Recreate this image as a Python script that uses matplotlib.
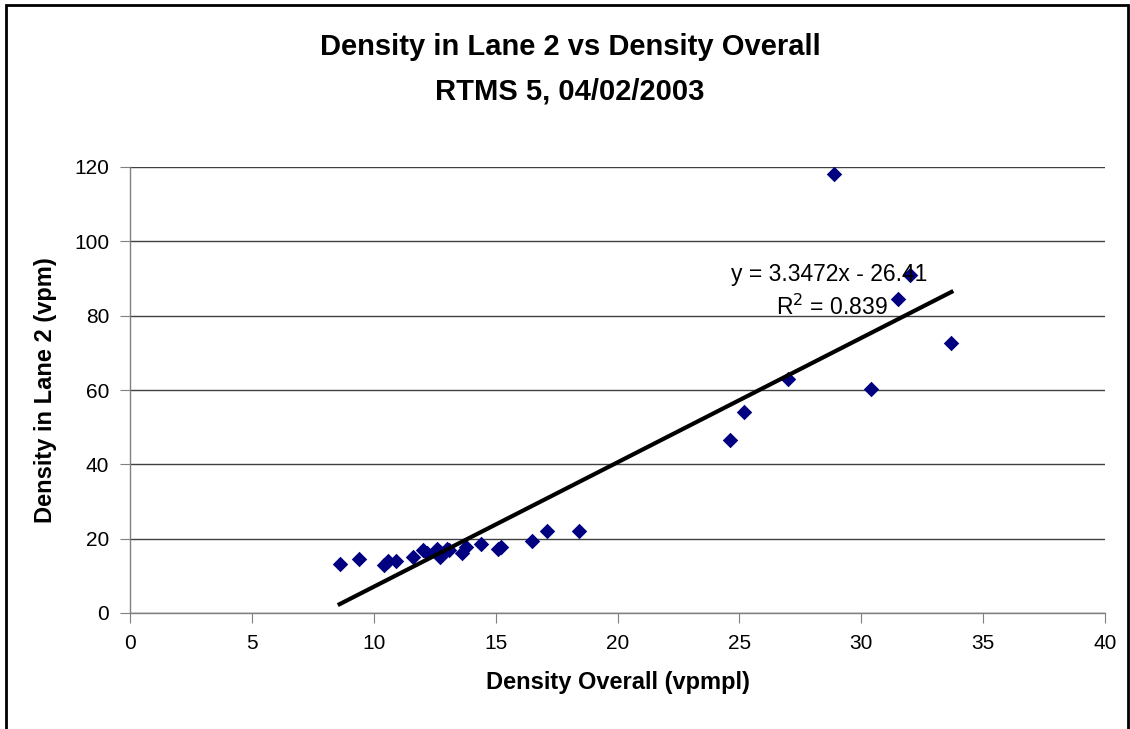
import numpy as np
import matplotlib.pyplot as plt
from matplotlib.patches import Rectangle

# === Daten ===
density_overall = [8.6, 9.4, 10.4, 10.6, 10.9, 11.6, 12.0, 12.2, 12.6, 12.7,
                   12.7, 13.0, 13.1, 13.6, 13.8, 14.4, 15.1, 15.2, 16.5, 17.1,
                   18.4, 24.6, 25.2, 27.0, 28.9, 30.4, 31.5, 32.0, 33.7]
density_lane2 = [13.1, 14.5, 12.9, 14.0, 14.1, 15.0, 17.0, 16.2, 17.1, 15.0,
                 16.5, 17.1, 16.9, 16.2, 17.7, 18.5, 17.1, 17.7, 19.5, 22.1,
                 22.1, 46.5, 54.0, 63.0, 118.0, 60.2, 84.5, 90.9, 72.6]

slope = 3.3472
intercept = -26.41
r_squared = 0.839

x_ticks = [0, 5, 10, 15, 20, 25, 30, 35, 40]
y_ticks = [0, 20, 40, 60, 80, 100, 120]

plt.rcParams['font.family'] = ['Liberation Sans', 'DejaVu Sans']

fig = plt.figure(figsize=(11.3, 7.29), dpi=100)
ax = fig.add_axes([130 / 1130, 1 - 613 / 729, 975 / 1130, 446 / 729])

# Rahmen um die ganze Grafik
fig.patches.append(Rectangle((6 / 1130, -0.05), 1122 / 1130, 1 - 5 / 729 + 0.05,
                             transform=fig.transFigure, fill=False,
                             edgecolor='black', linewidth=2))

ax.set_xlim(0, 40)
ax.set_ylim(0, 120)
ax.set_xticks(x_ticks)
ax.set_yticks(y_ticks)
ax.yaxis.grid(True, color='#404040', linewidth=1)
ax.set_axisbelow(True)

for side in ['top', 'right']:
    ax.spines[side].set_visible(False)
for side in ['left', 'bottom']:
    ax.spines[side].set_color('#808080')
    ax.spines[side].set_linewidth(1)
ax.tick_params(direction='out', length=7, color='#808080', labelsize=15, pad=8)

ax.scatter(density_overall, density_lane2, marker='D', s=62, color='#000080',
           zorder=3, linewidths=0)

# Trendlinie
x_fit = np.array([min(density_overall), max(density_overall)])
ax.plot(x_fit, slope * x_fit + intercept, color='black', linewidth=3, zorder=4)

ax.text(28.7, 91.0, f"y = {slope}x - {abs(intercept)}", fontsize=16.5, ha='center', va='center')
ax.text(28.8, 82.3, f"R$^2$ = {r_squared}", fontsize=16.5, ha='center', va='center')

ax.set_xlabel("Density Overall (vpmpl)", fontsize=17, fontweight='bold', labelpad=13)
ax.set_ylabel("Density in Lane 2 (vpm)", fontsize=17, fontweight='bold', labelpad=12)

fig.text(570 / 1130, 1 - 47 / 729, "Density in Lane 2 vs Density Overall",
         fontsize=21, fontweight='bold', ha='center', va='center')
fig.text(570 / 1130, 1 - 91 / 729, "RTMS 5, 04/02/2003",
         fontsize=21, fontweight='bold', ha='center', va='center')

plt.savefig("out.png", dpi=100)
plt.close()
